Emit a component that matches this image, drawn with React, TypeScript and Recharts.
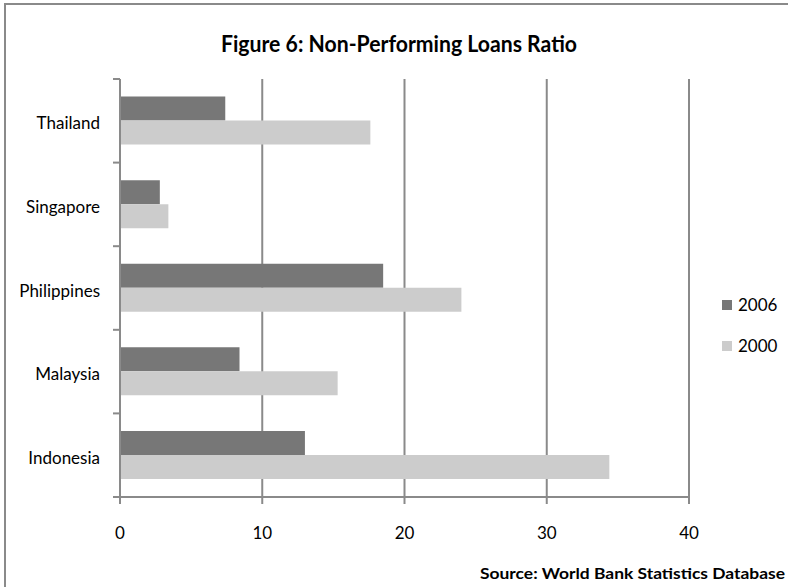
import React from 'react';
import { BarChart, Bar, XAxis, YAxis, CartesianGrid, Legend } from 'recharts';

const categories = ['Thailand', 'Singapore', 'Philippines', 'Malaysia', 'Indonesia'];
const values2006 = [7.4, 2.8, 18.5, 8.4, 13.0];
const values2000 = [17.6, 3.4, 24.0, 15.3, 34.4];
const xTicks = [0, 10, 20, 30, 40];
const seriesKeys = ['v2006', 'v2000'];
const seriesNames = ['2006', '2000'];
const seriesColors = ['#777777', '#cccccc'];
const titleText = 'Figure 6: Non-Performing Loans Ratio';
const sourceText = 'Source: World Bank Statistics Database';

const data = categories.map((name, i) => ({ name, v2006: values2006[i], v2000: values2000[i] }));

const FONT = 'Lato, "Open Sans", sans-serif';
const AXIS_GREY = '#8a8a8a';

const YTick = (props: any) => {
  const { x, y, payload, index, visibleTicksCount } = props;
  const off = payload && typeof payload.offset === 'number' ? payload.offset : 0;
  const count = visibleTicksCount ?? categories.length;
  return (
    <g>
      <line x1={x - 7} x2={x} y1={y - off} y2={y - off} stroke={AXIS_GREY} strokeWidth={2} />
      {index === count - 1 && (
        <line x1={x - 7} x2={x} y1={y + off} y2={y + off} stroke={AXIS_GREY} strokeWidth={2} />
      )}
      <text x={x - 20} y={y + 2} textAnchor="end" dominantBaseline="central" fill="#000" fontSize={17} fontFamily={FONT}>
        {payload.value}
      </text>
    </g>
  );
};

const renderLegend = (props: any) => {
  const items = [...(props.payload || [])].sort(
    (a: any, b: any) => seriesNames.indexOf(String(a.value)) - seriesNames.indexOf(String(b.value))
  );
  return (
    <div style={{ fontFamily: FONT, fontSize: 17, color: '#000' }}>
      {items.map((item: any) => (
        <div key={item.value} style={{ height: 41, display: 'flex', alignItems: 'center' }}>
          <span style={{ display: 'inline-block', width: 10, height: 10, background: item.color, marginRight: 6 }} />
          <span>{item.value}</span>
        </div>
      ))}
    </div>
  );
};

export default function App() {
  return (
    <div style={{ position: 'absolute', left: 0, top: 0, width: 788, height: 587, overflow: 'hidden', background: '#fff' }}>
      <div
        style={{
          position: 'absolute',
          left: 4,
          top: 3,
          width: 900,
          height: 900,
          borderTop: `2px solid ${AXIS_GREY}`,
          borderLeft: `2px solid ${AXIS_GREY}`,
          boxSizing: 'border-box',
        }}
      />
      <div style={{ position: 'absolute', left: 0, top: 0 }}>
        <BarChart
          width={788}
          height={587}
          data={data}
          layout="vertical"
          margin={{ top: 79, right: 99, left: 0, bottom: 50 }}
          barCategoryGap="21%"
          barGap={0}
        >
          <CartesianGrid horizontal={false} stroke={AXIS_GREY} strokeWidth={2} />
          <XAxis
            type="number"
            domain={[0, 40]}
            ticks={xTicks}
            height={40}
            axisLine={{ stroke: AXIS_GREY, strokeWidth: 2 }}
            tickLine={{ stroke: AXIS_GREY, strokeWidth: 2 }}
            tickSize={7}
            tickMargin={23}
            tick={{ fill: '#000', fontSize: 17, fontFamily: FONT }}
          />
          <YAxis
            type="category"
            dataKey="name"
            width={120}
            axisLine={{ stroke: AXIS_GREY, strokeWidth: 2 }}
            tickLine={false}
            tickSize={0}
            tickMargin={0}
            tick={<YTick />}
            interval={0}
          />
          <Legend
            layout="vertical"
            align="center"
            verticalAlign="middle"
            content={renderLegend}
            wrapperStyle={{ left: 722, top: 284, width: 70 }}
          />
          {seriesKeys.map((k, i) => (
            <Bar key={k} dataKey={k} name={seriesNames[i]} fill={seriesColors[i]} isAnimationActive={false} />
          ))}
        </BarChart>
      </div>
      <svg width={788} height={587} style={{ position: 'absolute', left: 0, top: 0, pointerEvents: 'none' }}>
        <text x={221} y={52} fontFamily={FONT} fontWeight={700} fontSize={22} fill="#000" textLength={356} lengthAdjust="spacingAndGlyphs">
          {titleText}
        </text>
        <text x={480} y={579} fontFamily={FONT} fontWeight={700} fontSize={16} fill="#000" textLength={305} lengthAdjust="spacingAndGlyphs">
          {sourceText}
        </text>
      </svg>
    </div>
  );
}
